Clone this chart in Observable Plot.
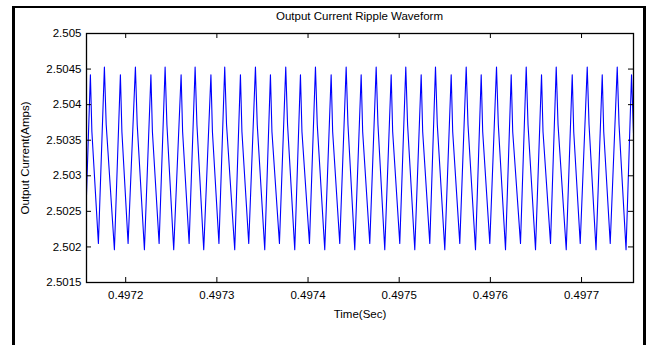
<!DOCTYPE html>
<html><head><meta charset="utf-8">
<script src="https://cdn.jsdelivr.net/npm/d3@7"></script>
<script src="https://cdn.jsdelivr.net/npm/@observablehq/plot@0.6"></script>
<style>
html,body{margin:0;padding:0;background:#fff;}
#wrap{position:relative;width:647px;height:345px;overflow:hidden;background:#fff;font-family:"Liberation Sans",Arial,sans-serif;color:#000;}
#border{position:absolute;left:12px;top:6px;width:634px;height:380px;box-sizing:border-box;border-left:3px solid #000;border-top:2px solid #000;border-right:3px solid #000;pointer-events:none;}
#title{height:26px;position:relative;}
#title span{position:absolute;left:359.5px;top:10px;transform:translateX(-50%);font-size:11.5px;white-space:nowrap;}
#chart svg{display:block;}
</style></head><body>
<div id="wrap"><div id="title"><span id="titletext"></span></div><div id="chart"></div><div id="border"></div></div>
<script>
const title = "Output Current Ripple Waveform";
const xLabel = "Time(Sec)";
const yLabel = "Output Current(Amps)";

const xTicks = [0.4972, 0.4973, 0.4974, 0.4975, 0.4976, 0.4977];
const xTickLabels = ["0.4972", "0.4973", "0.4974", "0.4975", "0.4976", "0.4977"];
const yTicks = [2.5015, 2.502, 2.5025, 2.503, 2.5035, 2.504, 2.5045, 2.505];
const yTickLabels = ["2.5015", "2.502", "2.5025", "2.503", "2.5035", "2.504", "2.5045", "2.505"];
const xDomain = [0.497157, 0.497757];
const yDomain = [2.5015, 2.505];

// time = timeBase + offset (microseconds)
const timeBase = 0.4972;
const timeOffsetUs = [
  -43.1,
  -38.73, -37.09, -29.95, -23.37, -21.40, -12.40,
  -5.82, -4.17, 2.63, 10.64, 12.62, 20.52,
  27.65, 29.30, 36.65, 43.23, 45.20, 52.67,
  60.78, 62.43, 69.56, 76.15, 78.12, 85.58,
  93.48, 95.13, 102.26, 108.62, 110.60, 119.59,
  125.85, 127.49, 134.96, 142.31, 144.28, 152.51,
  158.76, 160.41, 168.64, 175.55, 177.53, 185.43,
  191.68, 193.33, 201.56, 208.14, 210.11, 218.34,
  225.36, 227.01, 234.80, 241.82, 243.80, 251.26,
  258.28, 259.93, 267.72, 274.74, 276.71, 284.17,
  291.20, 292.84, 300.63, 307.22, 309.19, 317.09,
  324.11, 325.76, 333.55, 339.80, 341.78, 350.01,
  357.03, 358.68, 366.46, 373.49, 375.46, 383.69,
  389.95, 391.59, 399.38, 406.73, 408.71, 416.61,
  422.86, 424.51, 433.06, 439.32, 441.29, 449.52,
  456.11, 457.75, 465.98, 472.24, 474.21, 483.21,
  489.79, 491.44, 498.57, 506.25, 508.23, 515.90,
  522.71, 524.35, 531.48, 539.16, 541.14, 548.82,
  554.85, 557.0
];
const currentAmps = [
  2.5027,
  2.50442, 2.50362, 2.50205, 2.50453, 2.50372, 2.50196,
  2.50442, 2.50362, 2.50205, 2.50453, 2.50372, 2.50196,
  2.50442, 2.50362, 2.50205, 2.50453, 2.50372, 2.50196,
  2.50442, 2.50362, 2.50205, 2.50453, 2.50372, 2.50196,
  2.50442, 2.50362, 2.50205, 2.50453, 2.50372, 2.50196,
  2.50442, 2.50362, 2.50205, 2.50453, 2.50372, 2.50196,
  2.50442, 2.50362, 2.50205, 2.50453, 2.50372, 2.50196,
  2.50442, 2.50362, 2.50205, 2.50453, 2.50372, 2.50196,
  2.50442, 2.50362, 2.50205, 2.50453, 2.50372, 2.50196,
  2.50442, 2.50362, 2.50205, 2.50453, 2.50372, 2.50196,
  2.50442, 2.50362, 2.50205, 2.50453, 2.50372, 2.50196,
  2.50442, 2.50362, 2.50205, 2.50453, 2.50372, 2.50196,
  2.50442, 2.50362, 2.50205, 2.50453, 2.50372, 2.50196,
  2.50442, 2.50362, 2.50205, 2.50453, 2.50372, 2.50196,
  2.50442, 2.50362, 2.50205, 2.50453, 2.50372, 2.50196,
  2.50442, 2.50362, 2.50205, 2.50453, 2.50372, 2.50196,
  2.50442, 2.50362, 2.50205, 2.50453, 2.50372, 2.50196,
  2.50442, 2.50362, 2.50205, 2.50453, 2.50372, 2.50196,
  2.50442, 2.5036
];

const data = timeOffsetUs.map((us, k) => ({t: timeBase + us * 1e-6, i: currentAmps[k]}));
const xFmt = d => xTickLabels[xTicks.indexOf(d)];
const yFmt = d => yTickLabels[yTicks.indexOf(d)];
const tickLen = 5;
const tickStroke = {stroke: "#000", strokeWidth: 1};

document.getElementById("titletext").textContent = title;

const chart = Plot.plot({
  width: 647,
  height: 319,
  marginLeft: 86,
  marginRight: 14,
  marginTop: 7,
  marginBottom: 63,
  style: {fontFamily: "'Liberation Sans', Arial, sans-serif", fontSize: "11.5px", color: "#000", background: "transparent", overflow: "visible"},
  x: {type: "linear", domain: xDomain},
  y: {type: "linear", domain: yDomain},
  marks: [
    Plot.line(data, {x: "t", y: "i", stroke: "#0000ff", strokeWidth: 1.1, clip: true}),
    // inward ticks on all four sides (zero-length rules extended inward by negative insets)
    Plot.ruleX(xTicks, {x: d => d, y1: yDomain[0], y2: yDomain[0], insetTop: -tickLen, ...tickStroke}),
    Plot.ruleX(xTicks, {x: d => d, y1: yDomain[1], y2: yDomain[1], insetBottom: -tickLen, ...tickStroke}),
    Plot.ruleY(yTicks, {y: d => d, x1: xDomain[0], x2: xDomain[0], insetRight: -tickLen, ...tickStroke}),
    Plot.ruleY(yTicks, {y: d => d, x1: xDomain[1], x2: xDomain[1], insetLeft: -tickLen, ...tickStroke}),
    Plot.frame({stroke: "#000", strokeWidth: 1.3}),
    Plot.axisX(xTicks, {anchor: "bottom", tickSize: 0, tickPadding: 8, tickFormat: xFmt, label: xLabel, labelAnchor: "center", labelOffset: 35, labelArrow: "none"}),
    Plot.axisY(yTicks, {anchor: "left", tickSize: 0, tickPadding: 5, tickFormat: yFmt, label: yLabel, labelAnchor: "center", labelOffset: 66, labelArrow: "none"})
  ]
});
document.getElementById("chart").appendChild(chart);
</script>
</body></html>
